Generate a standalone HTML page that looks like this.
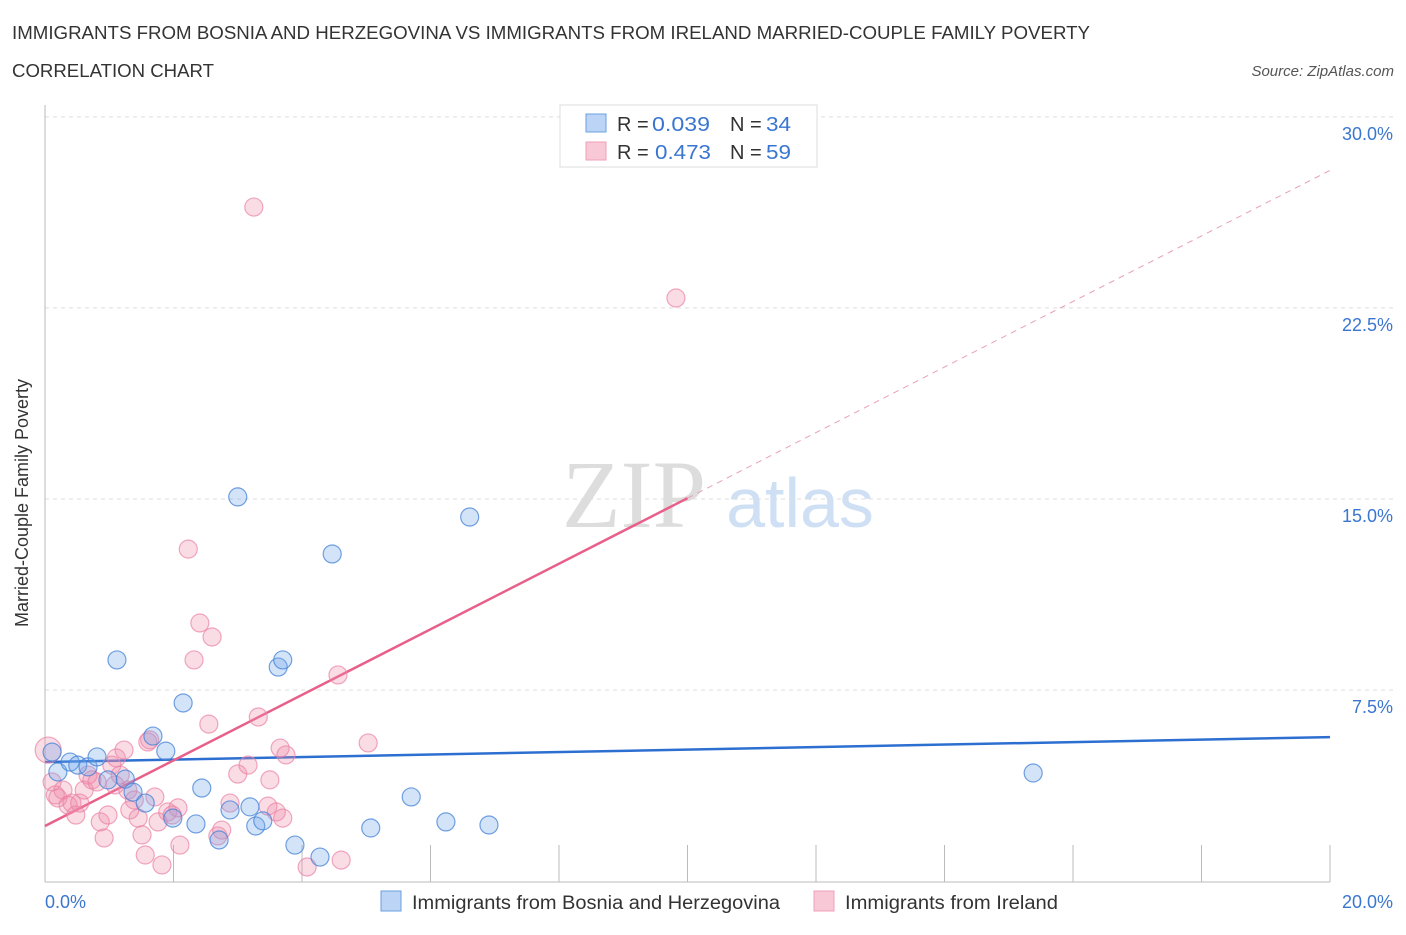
<!DOCTYPE html>
<html><head><meta charset="utf-8"><style>
body{margin:0;background:#fff;font-family:"Liberation Sans",sans-serif;}
svg text{font-family:"Liberation Sans",sans-serif;}
</style></head><body>
<svg id="c" width="1406" height="930" xmlns="http://www.w3.org/2000/svg">
<text x="12" y="39" font-size="18" fill="#333" textLength="1078" lengthAdjust="spacingAndGlyphs">IMMIGRANTS FROM BOSNIA AND HERZEGOVINA VS IMMIGRANTS FROM IRELAND MARRIED-COUPLE FAMILY POVERTY</text>
<text x="12" y="77" font-size="18" fill="#333" textLength="202" lengthAdjust="spacingAndGlyphs">CORRELATION CHART</text>
<text x="1394" y="76" font-size="15" fill="#555" font-style="italic" text-anchor="end">Source: ZipAtlas.com</text>
<text x="634" y="527" font-size="96" fill="#ddd" text-anchor="middle" style="font-family:'Liberation Serif',serif">ZIP</text>
<text x="800" y="527" font-size="70" fill="#cfe0f5" text-anchor="middle">atlas</text>
<g id="grid"></g><g id="axes"></g><g id="lines"></g><g id="pts"></g>
<text x="20" y="495" font-size="18" fill="#333" transform="rotate(-90 28 495)" text-anchor="middle">Married-Couple Family Poverty</text>
<rect x="560" y="105" width="257" height="62" fill="#fff" stroke="#ddd"/>
<rect x="586" y="114" width="20" height="18" fill="#bcd4f5" stroke="#6b9fe0"/>
<g font-size="20">
<text x="617" y="131" fill="#333">R =</text>
<text x="652" y="131" fill="#3a76d0" textLength="58" lengthAdjust="spacingAndGlyphs">0.039</text>
<text x="730" y="131" fill="#333">N =</text>
<text x="766" y="131" fill="#3a76d0" textLength="25" lengthAdjust="spacingAndGlyphs">34</text>
</g>
<rect x="586" y="142" width="20" height="18" fill="#f8c8d6" stroke="#f0a0b8"/>
<g font-size="20">
<text x="617" y="159" fill="#333">R =</text>
<text x="655" y="159" fill="#3a76d0" textLength="56" lengthAdjust="spacingAndGlyphs">0.473</text>
<text x="730" y="159" fill="#333">N =</text>
<text x="766" y="159" fill="#3a76d0" textLength="25" lengthAdjust="spacingAndGlyphs">59</text>
</g>
<rect x="381" y="891" width="20" height="20" fill="#bcd4f5" stroke="#6b9fe0"/>
<text x="412" y="909" font-size="19" fill="#333" textLength="368" lengthAdjust="spacingAndGlyphs">Immigrants from Bosnia and Herzegovina</text>
<rect x="814" y="891" width="20" height="20" fill="#f8c8d6" stroke="#f0a0b8"/>
<text x="845" y="909" font-size="19" fill="#333" textLength="213" lengthAdjust="spacingAndGlyphs">Immigrants from Ireland</text>
</svg>
<script>
const xTicks=[0,20];
const yTicks=[7.5,15,22.5,30];
const blueX=[0.11,0.20,0.39,0.51,0.67,0.81,0.98,1.12,1.25,1.37,1.56,1.68,1.88,1.99,2.15,2.35,2.44,2.71,2.88,3.00,3.19,3.28,3.39,3.63,3.70,3.89,4.28,4.47,5.07,5.70,6.24,6.61,6.91,15.38];
const blueY=[5.06,4.28,4.67,4.55,4.48,4.87,3.97,8.68,4.00,3.49,3.06,5.69,5.10,2.47,6.99,2.24,3.65,1.61,2.79,15.08,2.91,2.16,2.36,8.40,8.68,1.41,0.94,12.84,2.08,3.30,2.32,14.29,2.20,4.24];
const pinkX=[0.05,0.11,0.20,0.28,0.36,0.42,0.48,0.54,0.61,0.67,0.73,0.81,0.86,0.92,0.98,1.04,1.11,1.17,1.23,1.29,1.39,1.45,1.51,1.56,1.60,1.63,1.71,1.76,1.82,1.91,1.98,2.07,2.10,2.23,2.32,2.41,2.60,2.55,2.69,2.88,3.00,3.16,3.25,3.32,3.47,3.60,3.66,3.70,3.75,4.08,4.56,4.61,5.03,9.82,0.16,1.32,2.75,1.09,3.50];
const pinkY=[5.14,3.89,3.26,3.57,2.98,3.06,2.59,3.06,3.57,4.16,3.97,3.89,2.32,1.69,2.59,4.55,4.83,4.16,5.14,3.57,3.18,2.47,1.81,1.02,5.46,5.54,3.30,2.32,0.63,2.71,2.59,2.87,1.41,13.03,8.68,10.13,9.58,6.16,1.77,3.06,4.20,4.55,26.46,6.44,2.94,2.71,5.22,2.47,4.95,0.55,8.09,0.82,5.42,22.89,3.38,2.79,2.00,3.77,3.97];
const blueTrend=[4.67,5.65];
const pinkTrend=[2.16,27.9];
const NS="http://www.w3.org/2000/svg";
const X=v=>45+v*64.25, Y=v=>881-v*25.47;
function mk(t,a,p){const e=document.createElementNS(NS,t);for(const k in a)e.setAttribute(k,a[k]);document.getElementById(p).appendChild(e);return e;}
yTicks.forEach(t=>{
 const l=mk('line',{x1:45,x2:1395,y1:Y(t),y2:Y(t),stroke:'#ddd','stroke-dasharray':'4 4'},'grid');
 
 
 const tx=mk('text',{x:1393,y:Y(t)+23,'font-size':18,fill:'#3a76d0','text-anchor':'end'},'grid');
 tx.textContent=t.toFixed(1)+'%';
 
 
});
let a=mk('line',{x1:45,x2:45,y1:105,y2:882,stroke:'#bbb'},'axes');


a=mk('line',{x1:45,x2:1330,y1:882,y2:882,stroke:'#bbb'},'axes');


for(let k=1;k<=10;k++){
 const t=mk('line',{x1:X(2*k),x2:X(2*k),y1:845,y2:882,stroke:'#bbb'},'axes');
 
 
}
xTicks.forEach((t,i)=>{
 const tx=mk('text',{x:i?1393:45,y:908,'font-size':18,fill:'#3a76d0','text-anchor':i?'end':'start'},'axes');
 tx.textContent=t.toFixed(1)+'%';
 
 
});
let ln=mk('line',{x1:X(0),y1:Y(blueTrend[0]),x2:X(20),y2:Y(blueTrend[1]),stroke:'#2d6fd0','stroke-width':2.5},'lines');


const pAt=x=>pinkTrend[0]+(pinkTrend[1]-pinkTrend[0])*x/20;
ln=mk('line',{x1:X(0),y1:Y(pAt(0)),x2:X(10),y2:Y(pAt(10)),stroke:'#e8608a','stroke-width':2.5},'lines');


ln=mk('line',{x1:X(10),y1:Y(pAt(10)),x2:X(20),y2:Y(pAt(20)),stroke:'#e8a0b5','stroke-width':1,'stroke-dasharray':'6 5'},'lines');


pinkX.forEach((x,i)=>{
 const c=mk('circle',{cx:X(x),cy:Y(pinkY[i]),r:i==0?13:9,fill:'rgba(240,140,170,0.3)',stroke:'rgba(235,130,165,0.7)','stroke-width':1.2},'pts');
 
 
});
blueX.forEach((x,i)=>{
 const c=mk('circle',{cx:X(x),cy:Y(blueY[i]),r:9,fill:'rgba(110,165,235,0.3)',stroke:'rgba(70,130,215,0.75)','stroke-width':1.2},'pts');
 
 
});
</script>
</body></html>
